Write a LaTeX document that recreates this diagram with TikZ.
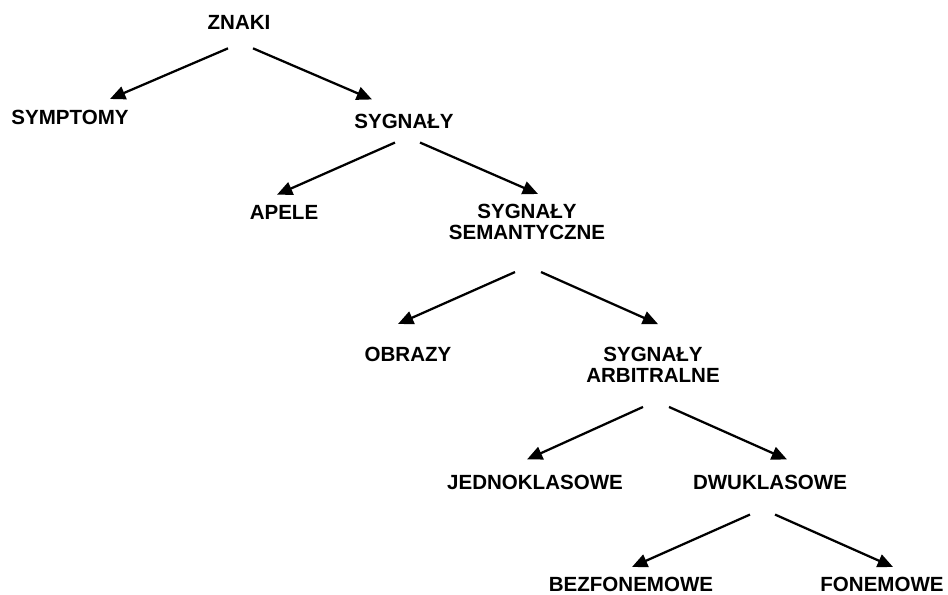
\documentclass[tikz,border=0pt]{standalone}
\usepackage{fontspec}
\setmainfont{Liberation Sans}
\usetikzlibrary{arrows.meta}

\begin{document}
\begin{tikzpicture}
[x=0.75pt,y=-0.75pt,
 word/.style={inner sep=0pt,align=center,font=\bfseries\fontsize{15.4}{15.75}\selectfont},
 arr/.style={line width=1.7pt,-{Triangle[length=11.5pt,width=10pt]}}]
\useasboundingbox (0,0) rectangle (948,594);
\node[word](znaki) at (239,22){ZNAKI};
\node[word](symptomy) at (70,117.5){SYMPTOMY};
\node[word](sygnaly) at (404,121){SYGNAŁY};
\node[word](apele) at (284,212){APELE};
\node[word](semant) at (527,222){SYGNAŁY\\SEMANTYCZNE};
\node[word](obrazy) at (408,354.5){OBRAZY};
\node[word](arbitr) at (653,365){SYGNAŁY\\ARBITRALNE};
\node[word](jedno) at (535,482){JEDNOKLASOWE};
\node[word](dwu) at (770,482){DWUKLASOWE};
\node[word](bez) at (631,584.5){BEZFONEMOWE};
\node[word](fon) at (882,584.5){FONEMOWE};
\draw[arr] ([shift={(-11,19)}]znaki.south) -- ([shift={(40,-11)}]symptomy.north);
\draw[arr] ([shift={(14,19)}]znaki.south) -- ([shift={(-32,-14)}]sygnaly.north);
\draw[arr] ([shift={(-9,14)}]sygnaly.south) -- ([shift={(-7,-10)}]apele.north);
\draw[arr] ([shift={(16,14)}]sygnaly.south) -- ([shift={(11,-10)}]semant.north);
\draw[arr] ([shift={(-12,32)}]semant.south) -- ([shift={(-10,-23)}]obrazy.north);
\draw[arr] ([shift={(14,32)}]semant.south) -- ([shift={(5,-23)}]arbitr.north);
\draw[arr] ([shift={(-10,24)}]arbitr.south) -- ([shift={(-8,-15)}]jedno.north);
\draw[arr] ([shift={(16,24)}]arbitr.south) -- ([shift={(17,-15)}]dwu.north);
\draw[arr] ([shift={(-20,25)}]dwu.south) -- ([shift={(1,-10)}]bez.north);
\draw[arr] ([shift={(5,25)}]dwu.south) -- ([shift={(11,-10)}]fon.north);
\end{tikzpicture}
\end{document}
